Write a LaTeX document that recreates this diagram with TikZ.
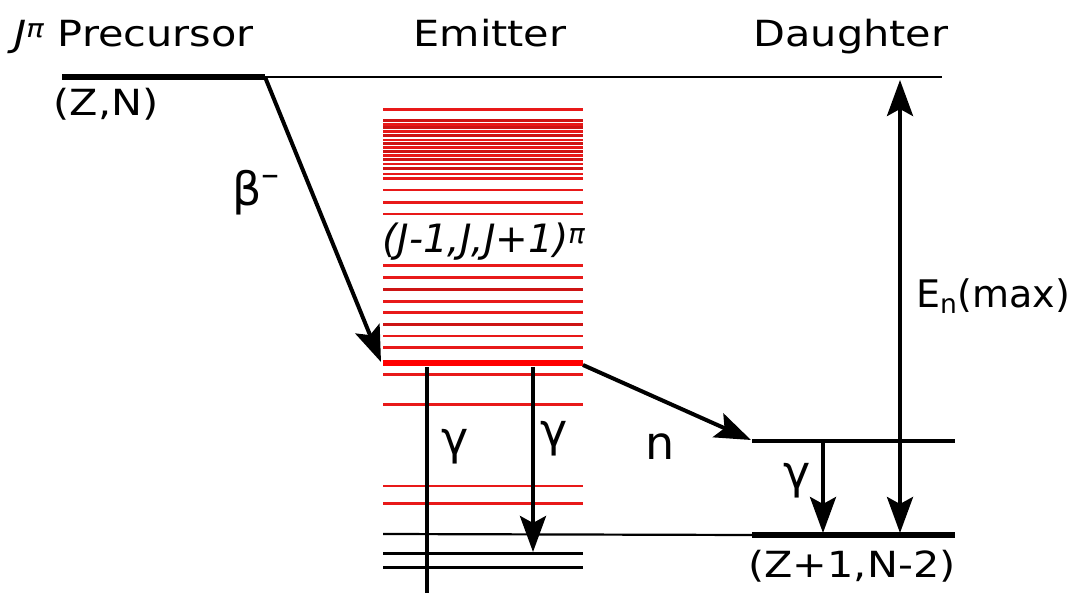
\documentclass[tikz,border=0pt]{standalone}
\usepackage{fontspec}
\setmainfont{DejaVu Sans}[FakeStretch=1.15]
\newfontfamily\plainfont{DejaVu Sans}
\usetikzlibrary{arrows.meta}
\definecolor{lvlred}{RGB}{232,25,25}
\definecolor{dkred}{RGB}{205,20,20}
\begin{document}
\begin{tikzpicture}[x=1pt,y=-1pt,
  lbl/.style={inner sep=0pt, font=\fontsize{36}{42}\selectfont},
  glbl/.style={inner sep=0pt, font=\plainfont\fontsize{46}{50}\selectfont},
  thinlvl/.style={line width=2.2pt, black},
  thicklvl/.style={line width=6pt, black},
  redlvl/.style={line width=2.5pt, lvlred},
  redlvlb/.style={line width=3pt, dkred},
  trans/.style={line width=4pt, -{Stealth[length=36pt,width=26pt,inset=7pt]}},
  transb/.style={line width=4pt, {Stealth[length=36pt,width=26pt,inset=7pt]}-{Stealth[length=36pt,width=26pt,inset=7pt]}}
]
\useasboundingbox (0,0) rectangle (1079,593);
% levels
\coordinate (p1) at (62,77);
\coordinate (p2) at (265,77);
\coordinate (p3) at (942,77);
\coordinate (e1) at (383,363);
\coordinate (e2) at (583,363);
\coordinate (d1) at (752,441);
\coordinate (d2) at (955,441);
\coordinate (g0) at (383,534);
\coordinate (g1) at (752,535);
\coordinate (g2) at (955,535);
\draw[thicklvl] (p1) -- (p2);
\draw[thinlvl] (p2) -- (p3);
% red levels
\foreach \yy in {109.3,124.3,131.3,140,147.3,155.7,164,174,178.3,190,202.3,214,265.7,277.3,301.7,312.7,336,347.3,374.3,404.3,486,503.3}
  \draw[redlvl] (383,\yy) -- (583,\yy);
\foreach \yy in {120.7,127.7,135.7,143.3,151.7,160,169,289.3,324.3}
  \draw[redlvlb] (383,\yy) -- (583,\yy);
\draw[line width=6pt, red] (e1) -- (e2);
% black emitter-bottom levels
\draw[thinlvl] (g0) -- (g1);
\draw[line width=3.4pt] (383,553.3) -- (583,553.3);
\draw[line width=2.6pt] (383,567.7) -- (583,567.7);
% daughter levels
\draw[line width=3.4pt] (d1) -- (d2);
\draw[thicklvl] (g1) -- (g2);
% transitions
\coordinate (bt) at (381,362);
\draw[trans] (p2) -- (bt);
\coordinate (ns) at (583,365);
\coordinate (ne) at (751,440);
\draw[trans] (ns) -- (ne);
\coordinate (ga1) at (427,367);
\coordinate (ga2) at (427,593);
\draw[line width=4pt] (ga1) -- (ga2);
\coordinate (gb1) at (533,367);
\coordinate (gb2) at (533,552);
\draw[trans] (gb1) -- (gb2);
\coordinate (gc1) at (823,441);
\coordinate (gc2) at (823,533);
\draw[trans] (gc1) -- (gc2);
\coordinate (en1) at (900,80);
\coordinate (en2) at (900,533);
\draw[transb] (en1) -- (en2);
% labels
\node[lbl, anchor=base west] (jp) at (14,47) {\textit{J}\textsuperscript{\textit{π}} Precursor};
\node[lbl, anchor=base] (em) at (490,47) {Emitter};
\node[lbl, anchor=base] (da) at (851,47) {Daughter};
\node[lbl] (zn) at (106,104) {(Z,N)};
\node[glbl, anchor=base west] (beta) at (232,206) {β\raisebox{0.42em}{\fontsize{36}{36}\selectfont –}};
\node[lbl, font=\plainfont\fontsize{39}{44}\selectfont] (jj) at (484,242) {\textit{(J-1,J,J+1)}\textsuperscript{\textit{π}}};
\node[glbl] (gl1) at (455,447) {γ};
\node[glbl] (gl2) at (554,439) {γ};
\node[glbl] (nl) at (660,447) {n};
\node[glbl] (gl3) at (797,481) {γ};
\node[lbl, font=\plainfont\fontsize{38}{44}\selectfont] (enl) at (993,296) {E\textsubscript{n}(max)};
\node[lbl] (zn2) at (852,566) {(Z+1,N-2)};
\end{tikzpicture}
\end{document}
